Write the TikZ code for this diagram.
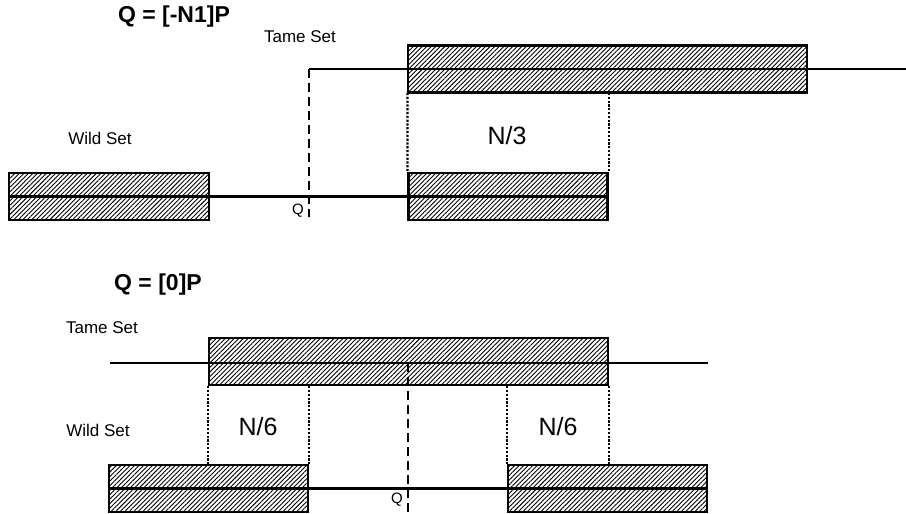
\documentclass[tikz,border=0pt]{standalone}
\usepackage{fontspec}
\setmainfont{Liberation Sans}
\usetikzlibrary{patterns.meta,positioning}

\tikzset{
  hatchbox/.style={draw, line width=2.2pt, inner sep=0pt, minimum height=47pt,
    pattern={Lines[angle=45,distance=3.2pt,line width=0.9pt]}},
  setline/.style={line width=2.2pt},
  gapline/.style={line width=2.2pt, dash pattern=on 2.2pt off 1.6pt},
  qline/.style={line width=2.4pt, dash pattern=on 9pt off 5pt},
  setlbl/.style={font=\fontsize{17}{20}\selectfont},
  gaplbl/.style={font=\fontsize{25}{28}\selectfont},
  titlelbl/.style={font=\bfseries\fontsize{23}{25}\selectfont},
  qlbl/.style={font=\fontsize{15}{17}\selectfont, inner sep=0pt}
}

\begin{document}
\begin{tikzpicture}[x=1pt,y=-1pt]
  \useasboundingbox (0,0) rectangle (906,514);

  % Q = [-N1]P
  \node[titlelbl] (title1) at (174,17) {Q = [-N1]P};
  \node[setlbl] (tame1) at (300,37) {Tame Set};
  \node[setlbl] (wild1) at (100,138) {Wild Set};

  \node[hatchbox, minimum width=399pt] (tbox1) at (607.5,69) {};
  \node[hatchbox, minimum width=200pt] (wbox1) at (109,196.5) {};
  \node[hatchbox, minimum width=199pt] (wbox2) at (508,196.5) {};

  \coordinate (qtop1) at (309,69);
  \coordinate (tend1) at (906,69);
  \coordinate (qbot1) at (309,217);

  \draw[setline] (qtop1) -- (tend1);
  \draw[setline] (wbox1.west) -- (wbox2.east);
  \draw[qline] (qtop1) -- (qbot1);
  \node[qlbl, anchor=east] (q1) at (304,211) {Q};

  \draw[gapline] (tbox1.south west) -- (wbox2.north west);
  \draw[gapline] (tbox1.south west -| wbox2.east) -- (wbox2.north east);
  \node[gaplbl] (n3) at (507,136) {N/3};

  % Q = [0]P
  \node[titlelbl] (title2) at (158,285) {Q = [0]P};
  \node[setlbl] (tame2) at (102,328) {Tame Set};
  \node[setlbl] (wild2) at (98,430) {Wild Set};

  \node[hatchbox, minimum width=399pt] (tbox2) at (408.5,361.5) {};
  \node[hatchbox, minimum width=199pt] (wbox3) at (208.5,488.5) {};
  \node[hatchbox, minimum width=199pt] (wbox4) at (607.5,488.5) {};

  \coordinate (tstart2) at (110,363);
  \coordinate (tend2) at (708,363);
  \coordinate (qtop2) at (408,363);
  \coordinate (qbot2) at (408,512);

  \draw[setline] (tstart2) -- (tend2);
  \draw[setline] (wbox3.west) -- (wbox4.east);
  \draw[qline] (qtop2) -- (qbot2);
  \node[qlbl, anchor=east] (q2) at (403,500) {Q};

  \draw[gapline] (tbox2.south west) -- (tbox2.south west |- wbox3.north);
  \draw[gapline] (tbox2.south -| wbox3.east) -- (wbox3.north east);
  \draw[gapline] (tbox2.south -| wbox4.west) -- (wbox4.north west);
  \draw[gapline] (tbox2.south east) -- (tbox2.south east |- wbox4.north);
  \node[gaplbl] (n6a) at (258,427) {N/6};
  \node[gaplbl] (n6b) at (558,427) {N/6};
\end{tikzpicture}
\end{document}
